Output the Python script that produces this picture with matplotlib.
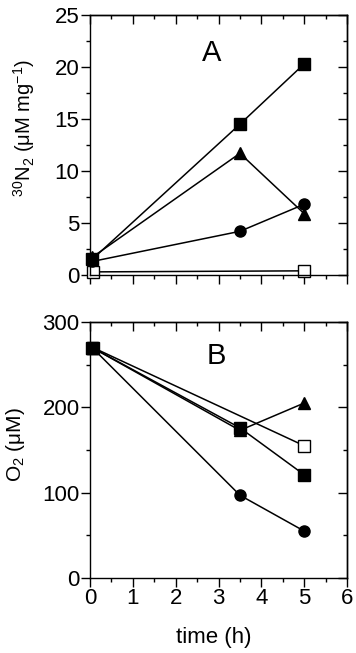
import matplotlib.pyplot as plt
from matplotlib.ticker import MultipleLocator

plt.rcParams['font.family'] = ['Liberation Sans', 'DejaVu Sans']
plt.rcParams['mathtext.fontset'] = 'custom'
plt.rcParams['mathtext.rm'] = 'Liberation Sans'

# panel A: 30N2 (uM mg-1)
t_a = [0.05, 3.5, 5]
a_square = [1.5, 14.5, 20.3]
a_triangle = [1.7, 11.7, 5.9]
a_circle = [1.3, 4.2, 6.8]
t_open = [0.07, 5]
a_open = [0.3, 0.4]

# panel B: O2 (uM)
t_b = [0.05, 3.5, 5]
b_square = [270, 176, 121]
b_triangle = [270, 173, 205]
b_circle = [270, 97, 55]
b_open = [270, 155]

fig = plt.figure(figsize=(3.56, 6.53), dpi=100)
W, H = 356, 653
axA = fig.add_axes([90 / W, 1 - 275 / H, 257 / W, 260 / H])
axB = fig.add_axes([90 / W, 1 - 578 / H, 257 / W, 256 / H])

mk = dict(color='black', lw=1.1, ms=8, clip_on=False)

axA.plot(t_open, a_open, marker='s', mfc='white', mec='black', **mk)
axA.plot(t_a, a_circle, marker='o', **mk)
axA.plot(t_a, a_triangle, marker='^', **mk)
axA.plot(t_a, a_square, marker='s', **mk)

axB.plot(t_open, b_open, marker='s', mfc='white', mec='black', **mk)
axB.plot(t_b, b_circle, marker='o', **mk)
axB.plot(t_b, b_square, marker='s', **mk)
axB.plot(t_b, b_triangle, marker='^', **mk)


def style(ax, ymaj, ymin):
    ax.set_xlim(0, 6)
    ax.xaxis.set_major_locator(MultipleLocator(1))
    ax.xaxis.set_minor_locator(MultipleLocator(0.5))
    ax.yaxis.set_major_locator(MultipleLocator(ymaj))
    ax.yaxis.set_minor_locator(MultipleLocator(ymin))
    ax.tick_params(which='both', direction='out', labelsize=16, width=1, pad=1)
    ax.tick_params(which='major', length=6.5)
    ax.tick_params(which='minor', length=3)
    for s in ax.spines.values():
        s.set_linewidth(1)
    top = ax.secondary_xaxis('top')
    right = ax.secondary_yaxis('right')
    top.xaxis.set_major_locator(MultipleLocator(1))
    top.xaxis.set_minor_locator(MultipleLocator(0.5))
    right.yaxis.set_major_locator(MultipleLocator(ymaj))
    right.yaxis.set_minor_locator(MultipleLocator(ymin))
    for sec in (top, right):
        sec.tick_params(which='both', direction='in', width=1,
                        labeltop=False, labelright=False)
        sec.tick_params(which='major', length=6.5)
        sec.tick_params(which='minor', length=3)
        for s in sec.spines.values():
            s.set_linewidth(1)


axA.set_ylim(0, 25)
style(axA, 5, 2.5)
axA.tick_params(labelbottom=False)
axA.set_ylabel(r'$^{30}$N$_2$ ($\mathregular{\mu}$M mg$^{\mathregular{-1}}$)', fontsize=14.5)
axA.yaxis.set_label_coords(-0.206, 0.565)
axA.text(2.85, 21.3, 'A', fontsize=21, ha='center', va='center')

axB.set_ylim(0, 300)
style(axB, 100, 50)
axB.set_ylabel(r'O$_2$ ($\mathregular{\mu}$M)', fontsize=15)
axB.yaxis.set_label_coords(-0.245, 0.52)
axB.set_xlabel('time (h)', fontsize=16)
axB.xaxis.set_label_coords(0.48, -0.191)
axB.xaxis.label.set_va('top')
axB.text(2.96, 260, 'B', fontsize=21, ha='center', va='center')

fig.savefig('out.png', dpi=100)
